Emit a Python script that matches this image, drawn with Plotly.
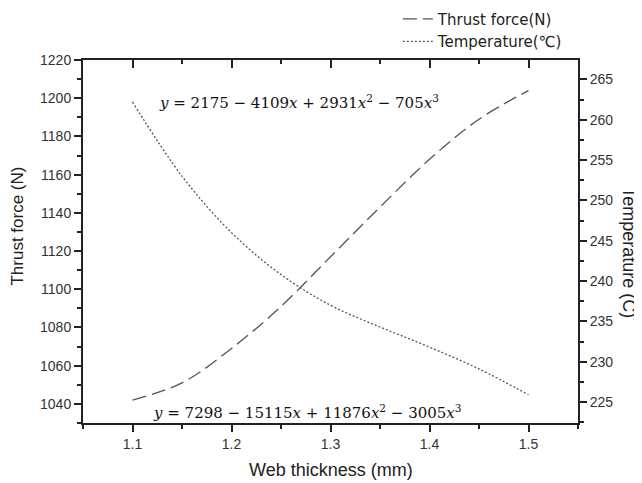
import plotly.graph_objects as go

web_thickness = [1.10, 1.15, 1.20, 1.25, 1.30, 1.35, 1.40, 1.45, 1.50]
thrust_force = [1042, 1051, 1069, 1091, 1117, 1143, 1168, 1189, 1204]
temperature = [262.2, 253.0, 246.0, 240.8, 237.0, 234.3, 231.8, 229.1, 225.9]

x_ticks = [1.1, 1.2, 1.3, 1.4, 1.5]
thrust_ticks = list(range(1040, 1221, 20))
temp_ticks = list(range(225, 266, 5))

eq_temp = "<i>y</i> = 2175 − 4109<i>x</i> + 2931<i>x</i><sup>2</sup> − 705<i>x</i><sup>3</sup>"
eq_thrust = "<i>y</i> = 7298 − 15115<i>x</i> + 11876<i>x</i><sup>2</sup> − 3005<i>x</i><sup>3</sup>"

tick_font = dict(family="Liberation Sans, Arial", size=14, color="#333")
title_font = dict(family="Liberation Sans, Arial", size=17, color="#222")
xtitle_font = dict(family="Liberation Sans, Arial", size=18, color="#222")

fig = go.Figure()
fig.add_trace(go.Scatter(
    x=web_thickness, y=thrust_force, name="Thrust force(N)", mode="lines",
    line=dict(color="#555", width=1.3, dash="14px,6px", shape="spline"),
    yaxis="y"))
fig.add_trace(go.Scatter(
    x=web_thickness, y=temperature, name="Temperature(℃)", mode="lines",
    line=dict(color="#555", width=1.3, dash="2px,2px", shape="spline"),
    yaxis="y2"))
# invisible trace to activate the top axis
fig.add_trace(go.Scatter(x=[1.3], y=[1100], xaxis="x2", yaxis="y",
                         mode="markers", marker=dict(opacity=0),
                         showlegend=False, hoverinfo="skip"))

fig.update_layout(
    width=634, height=475,
    margin=dict(l=75, r=64, t=52, b=60, autoexpand=False),
    paper_bgcolor="white", plot_bgcolor="white",
    showlegend=True,
    legend=dict(x=0.636, y=1.158, xanchor="left", yanchor="top",
                font=dict(family="DejaVu Sans", size=15, color="#222"),
                bgcolor="rgba(0,0,0,0)", tracegroupgap=0),
    xaxis=dict(range=[1.05, 1.55], tickvals=x_ticks, ticktext=[str(v) for v in x_ticks],
               ticks="outside", ticklen=7, tickwidth=2, tickcolor="#222",
               showline=True, linewidth=2, linecolor="#222", showgrid=False,
               zeroline=False, tickfont=tick_font,
               minor=dict(dtick=0.05, tick0=1.05, ticks="outside", ticklen=4,
                          tickwidth=2, tickcolor="#222", showgrid=False)),
    xaxis2=dict(range=[1.05, 1.55], overlaying="x", side="top", anchor="y",
                tickvals=x_ticks, showticklabels=False,
                ticks="inside", ticklen=8, tickwidth=2, tickcolor="#222",
                showline=True, linewidth=2, linecolor="#222", showgrid=False,
                zeroline=False,
                minor=dict(dtick=0.05, tick0=1.05, ticks="inside", ticklen=4,
                           tickwidth=2, tickcolor="#222", showgrid=False)),
    yaxis=dict(range=[1030, 1220], tickvals=thrust_ticks,
               ticks="outside", ticklen=7, tickwidth=2, tickcolor="#222",
               showline=True, linewidth=2, linecolor="#222", showgrid=False,
               zeroline=False, tickfont=tick_font,
               minor=dict(dtick=10, tick0=1030, ticks="outside", ticklen=4,
                          tickwidth=2, tickcolor="#222", showgrid=False)),
    yaxis2=dict(range=[222.4, 267.4], tickvals=temp_ticks, overlaying="y", side="right",
                anchor="x",
                ticks="outside", ticklen=7, tickwidth=2, tickcolor="#222",
                showline=True, linewidth=2, linecolor="#222", showgrid=False,
                zeroline=False, tickfont=tick_font,
                minor=dict(dtick=2.5, tick0=222.5, ticks="outside", ticklen=4,
                           tickwidth=2, tickcolor="#222", showgrid=False)),
    annotations=[
        dict(text="Thrust force (N)", xref="paper", yref="paper", x=-0.132, y=0.543,
             textangle=-90, showarrow=False, font=title_font,
             xanchor="center", yanchor="middle"),
        dict(text="Temperature (C)", xref="paper", yref="paper", x=1.103, y=0.468,
             textangle=90, showarrow=False, font=xtitle_font,
             xanchor="center", yanchor="middle"),
        dict(text="Web thickness (mm)", xref="paper", yref="paper", x=0.5, y=-0.129,
             showarrow=False, font=xtitle_font, xanchor="center", yanchor="middle"),
        dict(text=eq_temp, xref="paper", yref="paper", x=0.1495, y=0.884,
             showarrow=False, xanchor="left", yanchor="middle",
             font=dict(family="DejaVu Serif", size=15, color="#111")),
        dict(text=eq_thrust, xref="paper", yref="paper", x=0.137, y=0.030,
             showarrow=False, xanchor="left", yanchor="middle",
             font=dict(family="DejaVu Serif", size=15, color="#111")),
    ],
)

fig.write_html("out.html")
